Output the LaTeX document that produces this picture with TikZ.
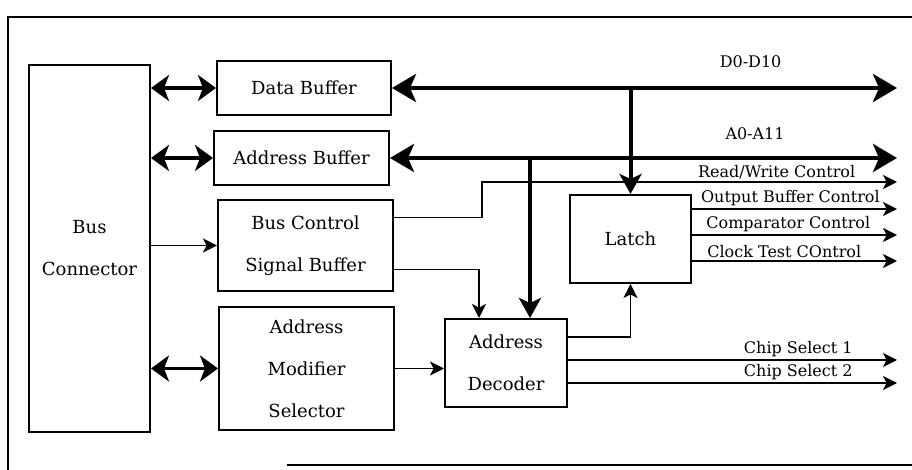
\documentclass[tikz,border=0pt]{standalone}
\usepackage{fontspec}
\setmainfont{DejaVu Serif}
\usetikzlibrary{arrows.meta}

\begin{document}
\begin{tikzpicture}[x=0.5pt, y=-0.5pt,
        block/.style={rectangle, draw=black, line width=1pt, align=center, inner sep=2pt, font=\fontsize{9}{21}\selectfont},
        bus/.style={line width=2pt, {Stealth[length=12pt, width=14pt, inset=3pt]}-{Stealth[length=12pt, width=14pt, inset=3pt]}},
        tap/.style={line width=2pt, -{Stealth[length=10pt, width=11pt, inset=2.5pt]}},
        link/.style={line width=1.6pt, {Stealth[length=9pt, width=13pt, inset=2.5pt]}-{Stealth[length=9pt, width=13pt, inset=2.5pt]}},
        sig/.style={line width=0.8pt, -{Stealth[length=7pt, width=7pt, inset=1.8pt]}},
        lbl/.style={font=\fontsize{8}{10}\selectfont, inner sep=1pt}
      ]
        \useasboundingbox (0,0) rectangle (912,470);

        % outer frame
        \draw[line width=0.8pt] (912,17) -- (8,17) -- (8,470);
        \draw[line width=0.8pt] (287,465) -- (912,465);

        \node[block, minimum width=60.5pt, minimum height=183.5pt]  (conn)  at (89.5,248.5)  {Bus\\Connector};
        \node[block, minimum width=87pt, minimum height=27pt]       (db)    at (304,88)      {Data Buffer};
        \node[block, minimum width=87.5pt, minimum height=27pt]     (ab)    at (301.5,158)   {Address Buffer};
        \node[block, minimum width=87.5pt, minimum height=45.5pt]   (bcs)   at (305.5,245.5) {Bus Control\\Signal Buffer};
        \node[block, minimum width=87.5pt, minimum height=61.5pt]   (am)    at (306.5,368.5) {Address\\Modifier\\Selector};
        \node[block, minimum width=61pt, minimum height=44pt]       (dec)   at (506,363)     {Address\\Decoder};
        \node[block, minimum width=60.5pt, minimum height=44pt]     (latch) at (630.5,239)   {Latch};

        % free ends on the right side
        \coordinate (dend)  at (897,88);
        \coordinate (aend)  at (897,158);
        \coordinate (rwbend) at (482,182);
        \coordinate (rwend) at (897,182);
        \coordinate (obc)   at (897,209);
        \coordinate (cmp)   at (897,235);
        \coordinate (clk)   at (897,261);
        \coordinate (cs1)   at (897,360);
        \coordinate (cs2)   at (897,383);
        \coordinate (atap)  at ([xshift=12pt]dec.north);

        % bus connector to the buffers
        \draw[link]  (db.west -| conn.east) -- (db.west);
        \draw[link]  (ab.west -| conn.east) -- (ab.west);
        \draw[link]  (am.west -| conn.east) -- (am.west);
        \draw[sig]   (bcs.west -| conn.east) -- (bcs.west);

        % data and address buses
        \draw[bus]  (db.east) -- node[lbl, above=8pt, pos=0.71] {D0-D10} (dend);
        \draw[bus]  (ab.east) -- node[lbl, above=7pt, pos=0.72] {A0-A11} (aend);
        \draw[tap]  (db.east -| latch.north) -- (latch.north);
        \draw[tap]  (ab.east -| atap) -- (atap);

        % control lines
        \draw[sig]  ([yshift=14pt]bcs.east) -| (rwbend) -- node[lbl, above, pos=0.71] {Read/Write Control} (rwend);
        \draw[sig]  ([yshift=-12pt]bcs.east) -| ([xshift=-13.5pt]dec.north);
        \draw[sig]  (am.east) -- (am.east -| dec.west);
        \draw[sig]  ([yshift=13pt]dec.east) -| (latch.south);

        \draw[sig]  ([yshift=15pt]latch.east) -- node[lbl, above, pos=0.48] {Output Buffer Control} (obc);
        \draw[sig]  ([yshift=2pt]latch.east) -- node[lbl, above, pos=0.47] {Comparator Control} (cmp);
        \draw[sig]  ([yshift=-11pt]latch.east) -- node[lbl, above, pos=0.45] {Clock Test COntrol} (clk);

        \draw[sig]  ([yshift=1.5pt]dec.east) -- node[lbl, above, pos=0.70] {Chip Select 1} (cs1);
        \draw[sig]  ([yshift=-10pt]dec.east) -- node[lbl, above, pos=0.70] {Chip Select 2} (cs2);
      \end{tikzpicture}
\end{document}
